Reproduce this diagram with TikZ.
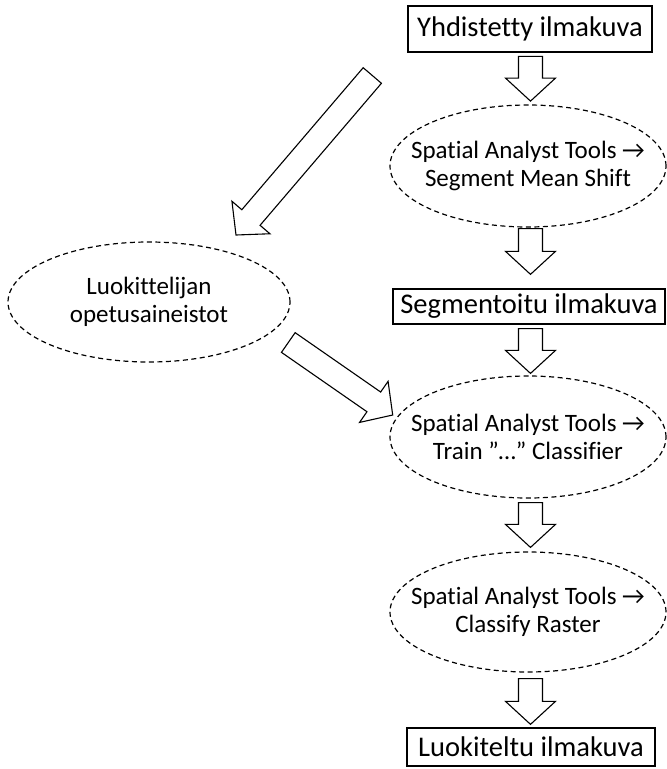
\documentclass[tikz,border=0pt]{standalone}
\usepackage{fontspec}
\setmainfont{Carlito}[Ligatures=NoCommon]
\usetikzlibrary{calc,shapes.geometric}

\tikzset{
  stepbox/.style={draw, line width=1.3pt, rectangle, inner sep=0pt, font=\fontsize{28.5}{32}\selectfont},
  tool/.style={draw, ellipse, dashed, dash pattern=on 5pt off 3.5pt, line width=1.2pt,
               inner xsep=-20pt, inner ysep=0pt,
               minimum width=276pt, minimum height=122pt, align=center,
               font=\fontsize{25}{28}\selectfont},
  bigarrow/.style={draw, line width=1.1pt, line join=miter, fill=white}
}

% Hollow block arrow from tail #1 to tip #2
\newcommand{\blockarrow}[2]{%
  \coordinate (hb) at ($(#2)!23pt!(#1)$);
  \draw[bigarrow]
    ($(#1)!12pt!90:(#2)$) -- ($(hb)!12pt!-90:(#1)$) -- ($(hb)!25pt!-90:(#1)$) --
    (#2) --
    ($(hb)!25pt!90:(#1)$) -- ($(hb)!12pt!90:(#1)$) -- ($(#1)!12pt!-90:(#2)$) -- cycle;
}

\begin{document}
\begin{tikzpicture}[x=1pt,y=-1pt]
\useasboundingbox (0,0) rectangle (667,769);

% main chain
\node[stepbox, minimum width=244pt, minimum height=46pt] (box1) at (530,29) {Yhdistetty ilmakuva};
\node[tool] (ell1) at (528,166) {Spatial Analyst Tools →\\Segment Mean Shift};
\node[stepbox, minimum width=272pt, minimum height=35pt] (box2) at (529,306.5) {Segmentoitu ilmakuva};
\node[tool] (ell2) at (528,437) {Spatial Analyst Tools →\\Train ”…” Classifier};
\node[tool, minimum height=120pt] (ell3) at (528,612) {Spatial Analyst Tools →\\Classify Raster};
\node[stepbox, minimum width=248pt, minimum height=38pt] (box3) at (531,747) {Luokiteltu ilmakuva};

% training data
\node[tool, minimum width=282pt, minimum height=120pt] (train) at (149,302) {Luokittelijan\\opetusaineistot};

% arrow end points
\coordinate (a1s) at ($(box1.south)+(0.5,3.7)$);
\coordinate (a1e) at ($(ell1.north)+(2.5,-3.3)$);
\coordinate (a2s) at ($(ell1.south)+(2.5,1)$);
\coordinate (a2e) at ($(box2.north)+(1.5,-14)$);
\coordinate (a3s) at ($(box2.south)+(1.5,4)$);
\coordinate (a3e) at ($(ell2.north)+(2.5,-2)$);
\coordinate (a4s) at ($(ell2.south)+(2.5,4)$);
\coordinate (a4e) at ($(ell3.north)+(2.5,-4)$);
\coordinate (a5s) at ($(ell3.south)+(2.5,6)$);
\coordinate (a5e) at ($(box3.north)+(-0.5,-3)$);
\coordinate (d1s) at (372.3,75.5);
\coordinate (d1e) at (236,235);
\coordinate (d2s) at (288.3,342.5);
\coordinate (d2e) at (392.7,415);

\blockarrow{a1s}{a1e}
\blockarrow{a2s}{a2e}
\blockarrow{a3s}{a3e}
\blockarrow{a4s}{a4e}
\blockarrow{a5s}{a5e}
\blockarrow{d1s}{d1e}
\blockarrow{d2s}{d2e}
\end{tikzpicture}
\end{document}
